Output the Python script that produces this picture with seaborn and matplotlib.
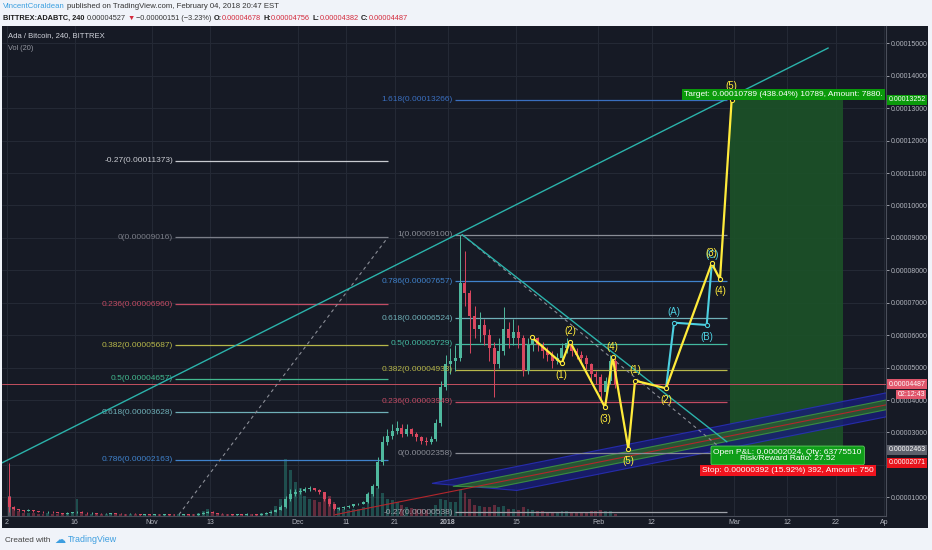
import numpy as np
import pandas as pd
import matplotlib
matplotlib.use("Agg")
import matplotlib.pyplot as plt
from matplotlib.colors import to_rgba
from matplotlib.patches import Rectangle, Polygon
import seaborn as sns

sns.set_theme(style="dark")
plt.rcParams["font.family"] = ["Liberation Sans", "DejaVu Sans"]

W, H = 932, 550
DARK = "#161a25"
LIGHT = "#f0f3f9"
GRID = "#252a36"
AXTXT = "#b2b5be"
UP, DOWN = "#4fb89e", "#d9475f"
YEL, CYAN, TEAL = "#ffeb3b", "#4dd0e1", "#2bb3ab"
SAT = 1e-8
EPOCH = pd.Timestamp("2018-01-01")

# ---- ADA/BTC daily candles in satoshi, 2 Oct 2017 .. 4 Feb 2018 ----
first_open = 1000
close_oct = [700, 640, 600, 590, 610, 580, 560, 540, 560, 550, 520, 500, 520, 540, 560,
             530, 510, 520, 500, 490, 500, 510, 500, 490, 480, 500, 490, 470, 480, 470]
high_oct = [2060, 720, 650, 620, 630, 615, 590, 570, 580, 575, 560, 530, 540, 560, 580,
            565, 540, 535, 530, 510, 515, 525, 520, 510, 500, 515, 510, 495, 495, 490]
low_oct = [560, 600, 580, 560, 570, 560, 540, 520, 530, 530, 510, 490, 495, 515, 530,
           515, 500, 500, 490, 480, 485, 495, 490, 480, 470, 475, 480, 460, 465, 460]
close_nov = [470, 460, 480, 470, 460, 470, 480, 470, 460, 500, 520, 560, 520, 500, 490,
             480, 470, 480, 470, 490, 480, 470, 500, 520, 560, 620, 700, 950, 1100, 1150]
high_nov = [485, 480, 495, 490, 480, 485, 495, 490, 480, 515, 540, 590, 570, 530, 510,
            500, 490, 495, 490, 505, 500, 490, 515, 540, 580, 650, 760, 1050, 1250, 1260]
low_nov = [460, 450, 455, 460, 450, 450, 465, 460, 450, 455, 490, 510, 510, 490, 480,
           470, 460, 465, 460, 465, 470, 460, 465, 495, 510, 550, 600, 680, 900, 1050]
close_dec = [1200, 1250, 1280, 1230, 1150, 950, 780, 640, 680, 700, 720, 780, 800, 850, 1100,
             1350, 2100, 2700, 2900, 3050, 3150, 2950, 3100, 2950, 2850, 2750, 2700, 2800,
             3300, 4400, 5100]
high_dec = [1280, 1320, 1340, 1300, 1250, 1170, 980, 800, 700, 730, 750, 800, 840, 880, 1150,
            1420, 2250, 2900, 3100, 3250, 3350, 3250, 3250, 3150, 3000, 2900, 2850, 2900,
            3400, 4600, 5400]
low_dec = [1100, 1150, 1200, 1180, 1100, 900, 740, 600, 620, 650, 680, 700, 760, 780, 830,
           1050, 1300, 2000, 2600, 2800, 2950, 2850, 2900, 2900, 2750, 2650, 2600, 2650,
           2750, 3200, 4300]
close_jan = [5200, 5300, 7600, 7300, 6600, 6200, 6300, 6000, 5600, 5100, 5500, 6200, 5900,
             6100, 5900, 4900, 5700, 5900, 5700, 5500, 5400, 5200, 5300, 5600, 5750, 5500,
             5400, 5300, 5100, 4800, 4700]
high_jan = [5600, 5700, 9100, 8600, 7400, 6900, 6700, 6500, 6200, 5800, 5900, 6870, 6400,
            6500, 6300, 6000, 5900, 6000, 5950, 5800, 5650, 5500, 5450, 5750, 5900, 5800,
            5600, 5500, 5400, 5150, 4900]
low_jan = [4800, 4900, 5200, 6900, 5450, 5900, 5800, 5700, 5200, 4100, 5000, 5400, 5600,
           5700, 5600, 4750, 4800, 5500, 5500, 5300, 5200, 5000, 5100, 5200, 5450, 5350,
           5250, 5150, 4950, 4600, 4500]
close_feb = [4250, 4600, 5200, 4487]
high_feb = [4800, 4700, 5400, 5300]
low_feb = [3950, 4000, 4500, 4380]

vol_oct = [35, 12, 8, 6, 5, 5, 4, 4, 5, 4, 4, 5, 4, 6, 30, 5, 4, 4, 4, 3, 3, 4, 3, 3, 3, 4, 3, 3, 3, 3]
vol_nov = [3, 3, 3, 3, 3, 3, 3, 3, 3, 6, 8, 12, 6, 4, 4, 3, 3, 3, 3, 4, 3, 3, 5, 6, 10, 18, 30, 100, 80, 60]
vol_dec = [50, 35, 30, 28, 25, 30, 35, 25, 15, 12, 10, 12, 12, 15, 40, 45, 50, 40, 30, 28, 25,
           20, 15, 14, 12, 12, 10, 12, 20, 30, 28]
vol_jan = [25, 25, 45, 40, 30, 20, 18, 16, 15, 20, 15, 18, 12, 12, 10, 15, 12, 10, 8, 8, 7, 7,
           7, 8, 8, 7, 6, 6, 7, 8, 8]
vol_feb = [10, 9, 8, 4]
VOL_TOP = 860  # volume pane scale

# ---- Fibonacci retracements ----
fib1_ratio = ["-0.27", "0", "0.236", "0.382", "0.5", "0.618", "0.786"]
fib1_price = [11373, 9016, 6960, 5687, 4657, 3628, 2163]
fib1_color = ["#c9cbd1", "#7b7e88", "#c24b63", "#b8b84a", "#43b98f", "#6fb0b8", "#3f82cc"]
fib1_span = (-56.3, -12.4)
fib1_diag = ([-56.3, -12.4], [306, 9016])

fib2_ratio = ["1.618", "1", "0.786", "0.618", "0.5", "0.382", "0.236", "0", "-0.27"]
fib2_price = [13266, 9100, 7657, 6524, 5729, 4933, 3949, 2358, 538]
fib2_color = ["#3a6fc0", "#8a8d96", "#3f82cc", "#6fb0b8", "#43b9a0", "#b8b84a", "#c24b63",
              "#8a8d96", "#a0a3ab"]
fib2_span = (1.44, 57.5)
fib2_diag = ([2.9, 57.5], [9100, 2358])

# ---- trend lines and channel ----
trend_up = ([-92.0, 78.4], [2060, 14855])
trend_down = ([2.9, 57.5], [9100, 2710])
chan_x = [-3.3, 90.3]
chan_mid = [1060, 3850]
blue_half, green_half = 370, 150
blue_start = (-3.3, 14.2)   # top edge, bottom edge
green_start = (1.0, 10.1)
red_start = -23.3

# ---- Elliott waves ----
wave_x = [17.26, 23.44, 25.15, 32.37, 33.96, 37.18, 38.56, 44.95, 54.37, 56.08, 58.49]
wave_p = [5934, 5133, 5799, 3776, 5318, 2499, 4596, 4362, 8216, 7723, 13266]
wave_lab = ["", "(1)", "(2)", "(3)", "(4)", "(5)", "(1)", "(2)", "(3)", "(4)", "(5)"]
wave_pos = ["", "b", "a", "b", "a", "b", "a", "b", "a", "b", "a"]
abc_x = [44.95, 46.6, 53.34, 54.37]
abc_p = [4362, 6385, 6314, 8160]
abc_lab = ["", "(A)", "(B)", "(C)"]
abc_pos = ["", "a", "b", "a"]

# ---- long position tool ----
tool_x = (58.1, 81.4)
entry, target, stop = 2463, 13252, 2071
last_price = 4487

# ---- axes ticks ----
tick_dates = ["2017-10-02", "2017-10-16", "2017-11-01", "2017-11-13", "2017-12-01",
              "2017-12-11", "2017-12-21", "2018-01-01", "2018-01-15", "2018-02-01",
              "2018-02-12", "2018-03-01", "2018-03-12", "2018-03-22", "2018-04-01"]
tick_labels = ["2", "16", "Nov", "13", "Dec", "11", "21", "2018", "15", "Feb", "12", "Mar",
               "12", "22", "Ap"]
price_ticks = [1, 2, 3, 4, 5, 6, 7, 8, 9, 10, 11, 12, 13, 14, 15]


def days(s):
    return (pd.Timestamp(s) - EPOCH).days


closes = np.array(close_oct + close_nov + close_dec + close_jan + close_feb, float)
highs = np.array(high_oct + high_nov + high_dec + high_jan + high_feb, float)
lows = np.array(low_oct + low_nov + low_dec + low_jan + low_feb, float)
vols = np.array(vol_oct + vol_nov + vol_dec + vol_jan + vol_feb, float)
opens = np.concatenate([[first_open], closes[:-1]])
dates = pd.date_range("2017-10-02", periods=len(closes), freq="D")
xs = (dates - EPOCH).days.values + 0.5
up = closes >= opens

fig = plt.figure(figsize=(W / 100, H / 100), dpi=100, facecolor=LIGHT)
fig.patches.append(Rectangle((2 / W, 1 - 528 / H), 926 / W, 502 / H, transform=fig.transFigure,
                             facecolor=DARK, edgecolor="none", zorder=-5))
ax = fig.add_axes([2 / W, 1 - 516 / H, 884 / W, 490 / H])
ax.set_facecolor(DARK)

# grid
for t in tick_dates:
    ax.axvline(days(t), color=GRID, lw=0.7, zorder=0)
for p in price_ticks:
    ax.axhline(p * 1e-5, color=GRID, lw=0.7, zorder=0)

# volume pane
vcol = [to_rgba("#2f9e8c", 0.4) if u else to_rgba("#d9475f", 0.4) for u in up]
vcol[0] = to_rgba("#9a9ca3", 0.5)
ax.bar(xs, vols / VOL_TOP, bottom=0, width=0.6, color=vcol, lw=0,
       transform=ax.get_xaxis_transform(), zorder=1)

# position tool
ax.add_patch(Rectangle((tool_x[0], entry * SAT), tool_x[1] - tool_x[0], (target - entry) * SAT,
                       facecolor="#1c5228", edgecolor="none", alpha=0.9, zorder=1))
ax.add_patch(Rectangle((tool_x[0], stop * SAT), tool_x[1] - tool_x[0], (entry - stop) * SAT,
                       facecolor="#4a1a22", edgecolor="none", alpha=0.9, zorder=1))


# channel
def mid_at(d):
    return chan_mid[0] + (d - chan_x[0]) * (chan_mid[1] - chan_mid[0]) / (chan_x[1] - chan_x[0])


x_end = 95.0
for half, starts, fc, ec, a in [(blue_half, blue_start, "#181d78", "#2a30c4", 0.8),
                                (green_half, green_start, "#2b5f2c", "#3f9a40", 0.85)]:
    pts = [(starts[0], mid_at(starts[0]) + half), (x_end, mid_at(x_end) + half),
           (x_end, mid_at(x_end) - half), (starts[1], mid_at(starts[1]) - half)]
    ax.add_patch(Polygon([(u, v * SAT) for u, v in pts], closed=True, facecolor=fc,
                         edgecolor=ec, lw=0.8, alpha=a, zorder=2))
ax.plot([red_start, x_end], [mid_at(red_start) * SAT, mid_at(x_end) * SAT],
        color="#b3262c", lw=0.8, zorder=2)

# last price line
ax.axhline(last_price * SAT, color="#c4505f", lw=0.7, zorder=2)

# fib retracements
for ratios, prices, colors, span, diag in [(fib1_ratio, fib1_price, fib1_color, fib1_span, fib1_diag),
                                           (fib2_ratio, fib2_price, fib2_color, fib2_span, fib2_diag)]:
    for r, p, c in zip(ratios, prices, colors):
        ax.hlines(p * SAT, span[0], span[1], colors=c, lw=0.9, zorder=2)
        ax.text(span[0] - 0.4, p * SAT, f"{r}({p * SAT:.8f})", color=c, fontsize=6.0,
                ha="right", va="center", zorder=4)
    ax.plot(diag[0], np.array(diag[1]) * SAT, color="#8a8d96", lw=0.8, ls=(0, (3, 3)), zorder=2)

# candles
ccol = np.where(up, UP, DOWN)
ax.vlines(xs, lows * SAT, highs * SAT, colors=ccol, lw=0.7, zorder=3)
ax.bar(xs, np.maximum(np.abs(closes - opens), 10) * SAT, bottom=np.minimum(opens, closes) * SAT,
       width=0.62, color=ccol, lw=0, zorder=3)

# trend lines
ax.plot(trend_up[0], np.array(trend_up[1]) * SAT, color=TEAL, lw=1.0, zorder=4)
ax.plot(trend_down[0], np.array(trend_down[1]) * SAT, color=TEAL, lw=1.0, zorder=4)

# Elliott wave paths
sns.lineplot(x=abc_x, y=np.array(abc_p) * SAT, sort=False, estimator=None, ax=ax, color=CYAN,
             lw=1.5, marker="o", markersize=3, markerfacecolor=DARK, markeredgecolor=CYAN,
             zorder=5)
sns.lineplot(x=wave_x, y=np.array(wave_p) * SAT, sort=False, estimator=None, ax=ax, color=YEL,
             lw=1.6, marker="o", markersize=3, markerfacecolor=DARK, markeredgecolor=YEL,
             zorder=6)
for i, (xv, pv, lab, pos) in enumerate(zip(wave_x, wave_p, wave_lab, wave_pos)):
    if lab:
        dy = 7.5 if pos == "a" else -8.5
        if i == len(wave_x) - 1:
            dy = 9.5
        ax.annotate(lab, (xv, pv * SAT), xytext=(0, dy),
                    textcoords="offset points", ha="center", va="center", color=YEL,
                    fontsize=7, zorder=7)
for xv, pv, lab, pos in zip(abc_x, abc_p, abc_lab, abc_pos):
    if lab:
        ax.annotate(lab, (xv, pv * SAT), xytext=(0, 7.5 if pos == "a" else -8.5),
                    textcoords="offset points", ha="center", va="center", color=CYAN,
                    fontsize=7, zorder=6)

# position tool labels
tool_mid = (tool_x[0] + tool_x[1]) / 2
ax.annotate(f"Target: {(target - entry) * SAT:.8f} (438.04%) 10789, Amount: 7880.",
            (tool_mid, target * SAT), xytext=(-2, 1.2), textcoords="offset points",
            ha="center", va="bottom", color="white", fontsize=6.0, zorder=9,
            annotation_clip=False, clip_on=True,
            bbox=dict(boxstyle="square,pad=0.22", fc="#0b9a0b", ec="none"))
ax.annotate(f"Open P&L: {(4487 - entry) * SAT:.8f}, Qty: 63775510\nRisk/Reward Ratio: 27.52",
            (tool_mid, entry * SAT), xytext=(1, -4), textcoords="offset points",
            ha="center", va="center", color="white", fontsize=6.0, zorder=9, linespacing=0.95,
            bbox=dict(boxstyle="round,pad=0.3,rounding_size=0.2", fc="#0f9e19", ec="#5ccf5c", lw=0.6))
ax.annotate(f"Stop: {(entry - stop) * SAT:.8f} (15.92%) 392, Amount: 750",
            (tool_mid, stop * SAT), xytext=(1, -5.5), textcoords="offset points",
            ha="center", va="center", color="white", fontsize=6.0, zorder=9,
            bbox=dict(boxstyle="square,pad=0.25", fc="#f0141e", ec="none"))

# right price scale
tags = [(target, "#0b9a0b"), (last_price, "#e0566b"), (entry, "#5d606b"), (stop, "#e8141c")]
ax.set_xlim(-91.96, 90.31)
ax.set_ylim(424 * SAT, 15533 * SAT)
ax.yaxis.tick_right()
ax.set_yticks([p * 1e-5 for p in price_ticks])
ax.set_yticklabels(["" if any(abs(p * 1000 - t) < 100 for t, _ in tags) else f"{p * 1e-5:.8f}"
                    for p in price_ticks])
ax.set_xticks([days(t) for t in tick_dates])
ax.set_xticklabels(tick_labels)
for lab in ax.get_xticklabels():
    if lab.get_text() == "2018":
        lab.set_fontweight("bold")
ax.tick_params(axis="y", labelsize=5.0, colors=AXTXT, length=2, width=0.6, pad=1.2, right=True)
ax.tick_params(axis="x", labelsize=5.0, colors=AXTXT, length=0, pad=2.2)
ax.grid(False)
for side in ["top", "left"]:
    ax.spines[side].set_visible(False)
for side in ["bottom", "right"]:
    ax.spines[side].set_color("#4a4e5a")
    ax.spines[side].set_linewidth(0.8)

ytr = ax.get_yaxis_transform()
for val, fc in tags:
    ax.text(1.003, val * SAT, f"{val * SAT:.8f}", transform=ytr, ha="left", va="center",
            color="white", fontsize=5.0, clip_on=False, zorder=10,
            bbox=dict(boxstyle="square,pad=0.22", fc=fc, ec="none"))
ax.annotate("02:12:43", (1, last_price * SAT), xycoords=ytr, xytext=(28, -7.4),
            textcoords="offset points", ha="right", va="center", color="white", fontsize=5.0,
            annotation_clip=False, bbox=dict(boxstyle="square,pad=0.2", fc="#e0566b", ec="none"))

# pane legend
fig.text(8 / W, 1 - 36 / H, "Ada / Bitcoin, 240, BITTREX", color="#d1d4dc", fontsize=5.5,
         va="center", ha="left")
fig.text(8 / W, 1 - 48 / H, "Vol (20)", color="#9598a1", fontsize=5.3, va="center", ha="left")

# header / footer
renderer = fig.canvas.get_renderer()


def text_run(x_px, y_px, pieces, size):
    x = x_px
    for s, color, weight, gap, *extra in pieces:
        fs = extra[0] if extra else size
        t = fig.text(x / W, 1 - y_px / H, s, color=color, fontsize=fs, fontweight=weight,
                     va="center", ha="left")
        x += t.get_window_extent(renderer=renderer).width + gap


text_run(3, 7, [("VincentCoraldean", "#3a9fe0", "normal", 2.5),
                ("published on TradingView.com, February 04, 2018 20:47 EST", "#333333", "normal", 0)],
         5.6)
RED = "#d42a3c"
text_run(3, 18, [("BITTREX:ADABTC, 240", "#1c1c1c", "bold", 2.2),
                 ("0.00004527", "#333333", "normal", 2),
                 ("▼", RED, "normal", 1.5),
                 ("−0.00000151 (−3.23%)", "#333333", "normal", 2.2),
                 ("O:", "#1c1c1c", "bold", 0), ("0.00004678", RED, "normal", 2.2),
                 ("H:", "#1c1c1c", "bold", 0), ("0.00004756", RED, "normal", 2.2),
                 ("L:", "#1c1c1c", "bold", 0), ("0.00004382", RED, "normal", 2.2),
                 ("C:", "#1c1c1c", "bold", 0), ("0.00004487", RED, "normal", 0)], 5.3)
text_run(5, 540, [("Created with", "#444444", "normal", 4),
                  ("☁", "#3d9ee0", "normal", 2, 8),
                  ("TradingView", "#3d9ee0", "normal", 0, 6.4)], 5.9)

fig.savefig("out.png", dpi=100, facecolor=LIGHT)
